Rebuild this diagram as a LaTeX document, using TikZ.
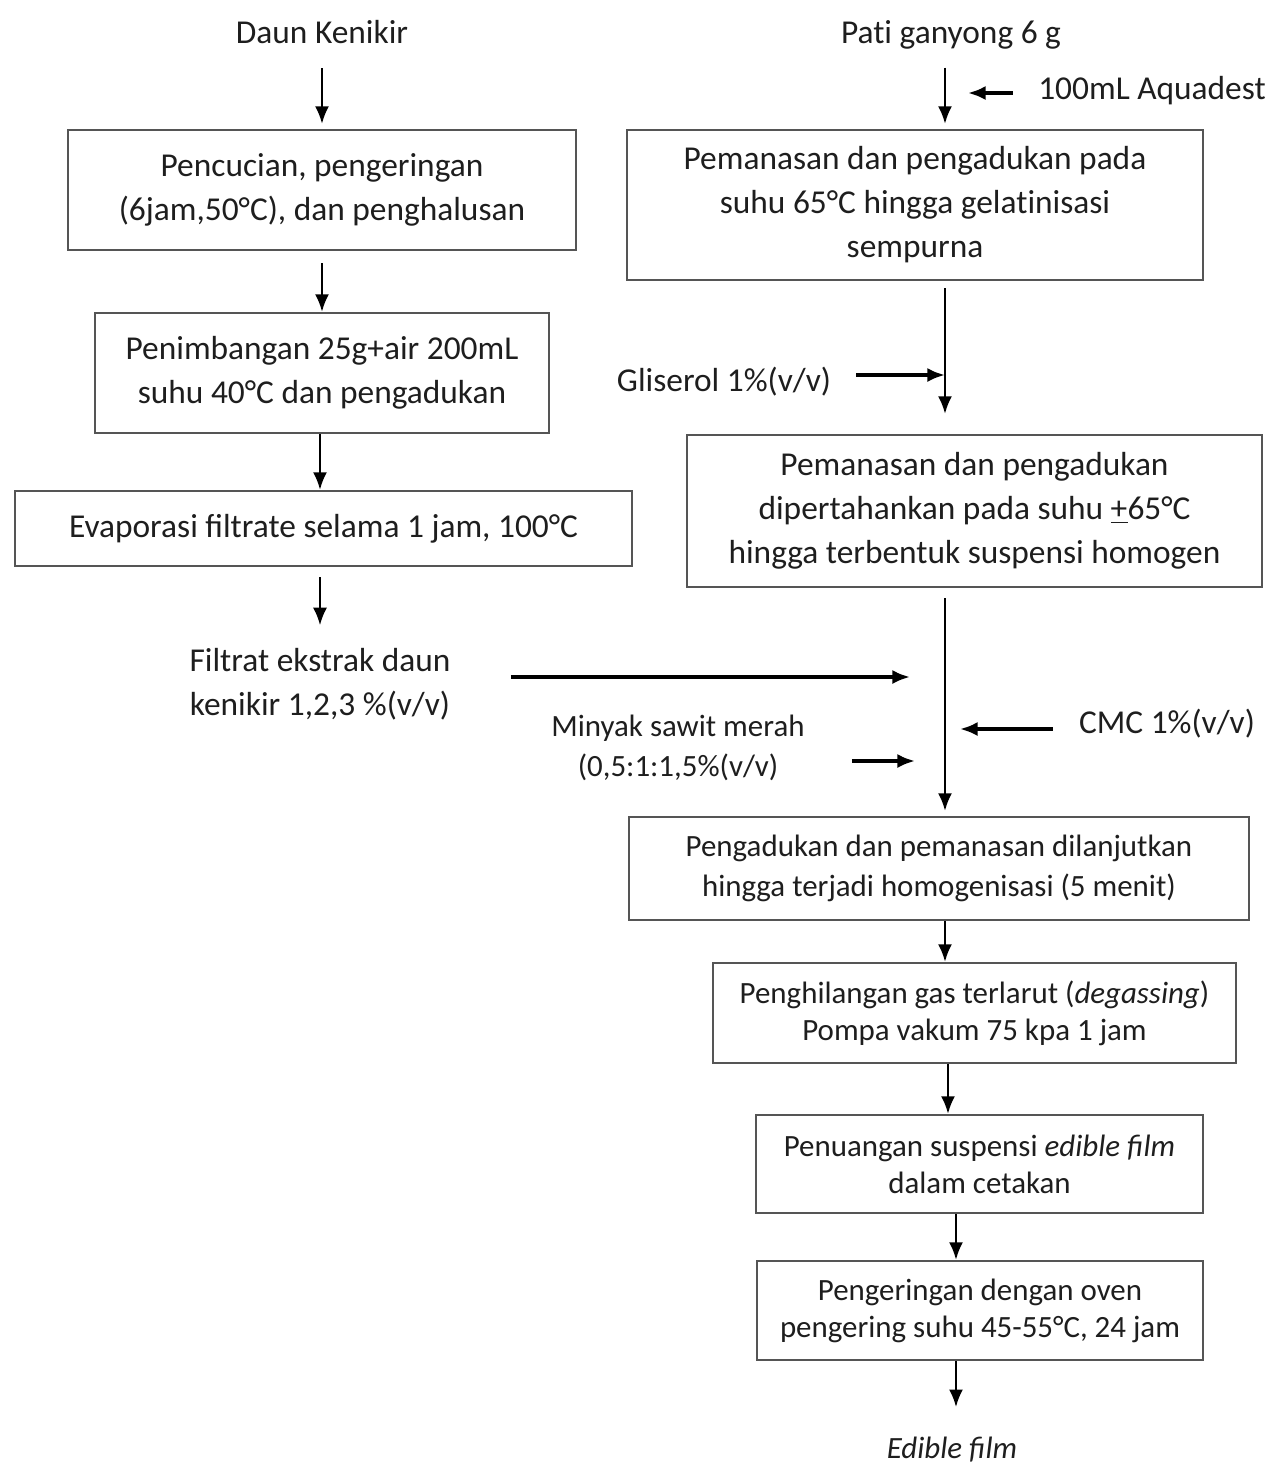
\documentclass[tikz,border=0pt]{standalone}
\usepackage{fontspec}
\setmainfont{Carlito}
\usetikzlibrary{arrows.meta}
\definecolor{ink}{HTML}{1E1E1E}
\definecolor{frame}{HTML}{555555}
\newcommand\fbig{\fontsize{19}{25}\selectfont}
\newcommand\fsml{\fontsize{17.6}{22.5}\selectfont}
\newcommand\fsmb{\fontsize{17.6}{21}\selectfont}
\begin{document}
\begin{tikzpicture}[x=0.02cm,y=-0.02cm,
  box/.style={draw=frame, line width=1.3pt, align=center, inner sep=0pt, text=ink, font=\fbig},
  lbl/.style={align=center, inner sep=0pt, text=ink, font=\fbig},
  arr/.style={-{Latex[length=10pt,width=8pt]}, line width=1.4pt, draw=black},
  arrb/.style={arr, line width=1.9pt}]
\useasboundingbox[fill=white] (0,0) rectangle (1272,1465);
% ---------- left column
\node[lbl] (dk) at (322,32) {Daun Kenikir};
\node[box, minimum width=10.16cm, minimum height=2.4cm] (b1) at (322,190)
  {Pencucian, pengeringan\\(6jam,50°C), dan penghalusan};
\node[box, minimum width=9.08cm, minimum height=2.4cm] (b2) at (322,373)
  {Penimbangan 25g+air 200mL\\suhu 40°C dan pengadukan};
\node[box, minimum width=12.34cm, minimum height=1.5cm] (b3) at (323.5,528.5)
  {Evaporasi filtrate selama 1 jam, 100°C};
\node[lbl] (fl) at (320,684) {Filtrat ekstrak daun\\kenikir 1,2,3 \%(v/v)};
% ---------- right column
\node[lbl] (pg) at (951,35) {Pat\kern0pt i ganyong 6 g};
\node[lbl] (aq) at (1152,91) {100mL Aquadest};
\node[box, minimum width=11.52cm, minimum height=3.0cm] (b4) at (915,205)
  {Pemanasan dan pengadukan pada\\suhu 65°C hingga gelat\kern0pt inisasi\\sempurna};
\node[lbl] (gl) at (724,382) {Gliserol 1\%(v/v)};
\node[box, minimum width=11.5cm, minimum height=3.04cm] (b5) at (974.5,511)
  {Pemanasan dan pengadukan\\dipertahankan pada suhu \underline{+}65°C\\hingga terbentuk suspensi homogen};
\node[lbl] (cmc) at (1167,724) {CMC 1\%(v/v)};
\node[lbl, font=\fsml] (ms) at (678,748) {Minyak sawit merah\\(0,5:1:1,5\%(v/v)};
\node[box, font=\fsml, minimum width=12.4cm, minimum height=2.06cm] (b6) at (939,868.5)
  {Pengadukan dan pemanasan dilanjutkan\\hingga terjadi homogenisasi (5 menit)};
\node[box, font=\fsmb, minimum width=10.46cm, minimum height=2.0cm] (b7) at (974.5,1013)
  {Penghilangan gas terlarut (\textit{degassing})\\Pompa vakum 75 kpa 1 jam};
\node[box, font=\fsmb, minimum width=8.94cm, minimum height=1.96cm] (b8) at (979.5,1164)
  {Penuangan suspensi \textit{edible film}\\dalam cetakan};
\node[box, font=\fsmb, minimum width=8.92cm, minimum height=1.98cm] (b9) at (980,1310.5)
  {Pengeringan dengan oven\\pengering suhu 45-55°C, 24 jam};
\node[lbl, font=\fsml] (ed) at (952,1450) {\textit{Edible film}};
% ---------- coordinates
\coordinate (t0) at (945,0);
\coordinate (t7) at (948,0);
\coordinate (t8) at (956,0);
\coordinate (aqa) at (968,93);
\coordinate (j1) at (945,375);
\coordinate (j2) at (910,677);
\coordinate (j3) at (960,729);
\coordinate (j4) at (915,761);
% ---------- left arrows
\draw[arr, shorten <=0.48cm, shorten >=0.1cm] (dk.south) -- (b1.north);
\draw[arr, shorten <=0.24cm] (b1.south) -- (b2.north);
\draw[arr] (b2.south -| fl.north) -- (b3.north -| fl.north);
\draw[arr, shorten <=0.2cm, shorten >=0.45cm] (b3.south -| fl.north) -- (fl.north);
% ---------- right arrows
\draw[arr, shorten <=0.36cm, shorten >=0.1cm] (pg.south -| t0) -- (b4.north -| t0);
\draw[arrb] ([xshift=-0.5cm]aq.west |- aqa) -- (aqa);
\draw[arr, shorten <=0.14cm, shorten >=0.4cm] (b4.south -| t0) -- (b5.north -| t0);
\draw[arrb] ([xshift=0.5cm]gl.east |- j1) -- (j1);
\draw[arr, shorten <=0.2cm, shorten >=0.1cm] (b5.south -| t0) -- (b6.north -| t0);
\draw[arrb] ([xshift=1.2cm]fl.east |- j2) -- (j2);
\draw[arrb] ([xshift=-0.52cm]cmc.west |- j3) -- (j3);
\draw[arrb] ([xshift=0.94cm]ms.east |- j4) -- (j4);
\draw[arr] (b6.south -| t0) -- (b7.north -| t0);
\draw[arr] (b7.south -| t7) -- (b8.north -| t7);
\draw[arr] (b8.south -| t8) -- (b9.north -| t8);
\draw[arr, shorten >=0.6cm] (b9.south -| t8) -- (ed.north -| t8);
\end{tikzpicture}
\end{document}
